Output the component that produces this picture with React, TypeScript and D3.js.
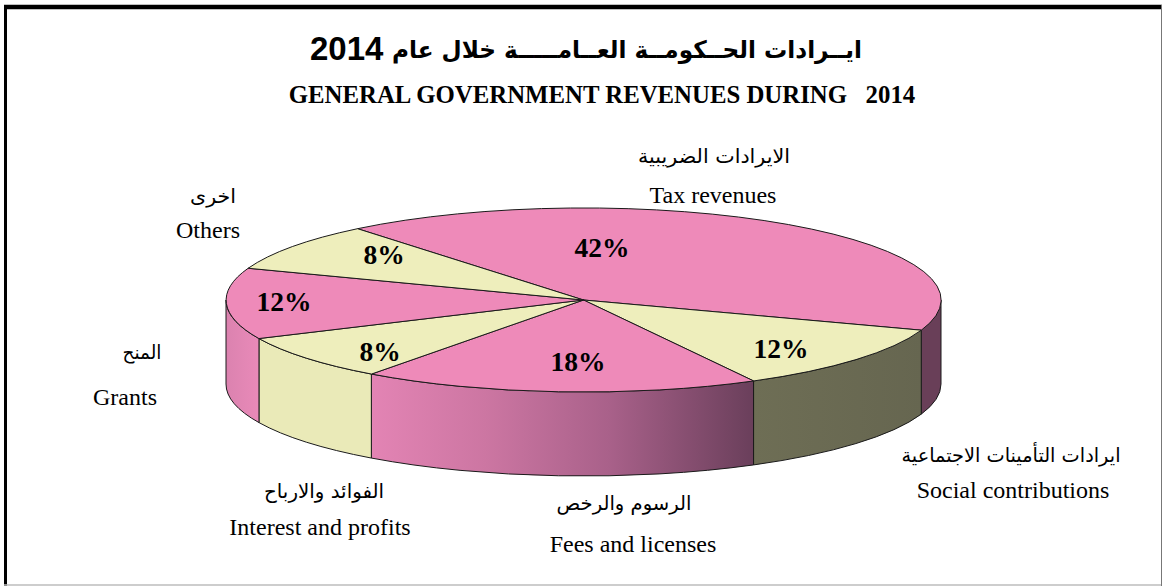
import React from "react";
import * as d3 from "d3";

const categoriesEn = ["Tax revenues", "Social contributions", "Fees and licenses", "Interest and profits", "Grants", "Others"];
const categoriesAr = ["الايرادات الضريبية", "ايرادات التأمينات الاجتماعية", "الرسوم والرخص", "الفوائد والارباح", "المنح", "اخرى"];
const sliceValues = [41.2, 11.8, 18, 8, 12.5, 8.5];
const percentLabels = ["42%", "12%", "18%", "8%", "12%", "8%"];

const titleArText = "ايــرادات الحــكومــة العــامـــــة خلال عام";
const titleYear = "2014";
const titleEn = "GENERAL GOVERNMENT REVENUES DURING   2014";

const W = 1162, H = 586;
const cx = 583.5, cy = 300, rx = 357.5, ry = 92, depth = 84;
const startDeg = -39.2;

const topFill = ["#EE8AB9", "#EEEEBC", "#EE8AB9", "#EEEEBC", "#EE8AB9", "#EEEEBC"];
const wallFill = ["#693F58", "url(#wallSocial)", "url(#wallFees)", "#EAEAB8", "url(#wallGrants)", "#EAEAB8"];

const labelAnchor = [
  { xAr: 714, ar: 163, wAr: 152, xEn: 713, en: 203 },
  { xAr: 1011, ar: 462, wAr: 219, xEn: 1013, en: 498 },
  { xAr: 624, ar: 510, wAr: 135, xEn: 633, en: 552 },
  { xAr: 324, ar: 498, wAr: 120, xEn: 320, en: 535 },
  { xAr: 142, ar: 359, wAr: 39, xEn: 125, en: 405 },
  { xAr: 213, ar: 203, wAr: 46, xEn: 208, en: 238 },
];
const pctAnchor = [
  { x: 602, y: 257 }, { x: 781, y: 358 }, { x: 578, y: 371 }, { x: 380, y: 361 }, { x: 284, y: 311 }, { x: 384, y: 264 },
];

const AR_FONT = "'DejaVu Sans', sans-serif";
const SANS = "'Liberation Sans', Arial, sans-serif";
const SERIF = "'Liberation Serif', 'Times New Roman', serif";

export default function App() {
  const start = (startDeg * Math.PI) / 180;
  const pie = d3.pie<number>().sort(null).startAngle(start).endAngle(start + 2 * Math.PI);
  const arcs = pie(sliceValues);
  const arcGen = d3.arc<d3.PieArcDatum<number>>().innerRadius(0).outerRadius(1);
  const px = d3.scaleLinear().domain([-1, 1]).range([cx - rx, cx + rx]);
  const py = d3.scaleLinear().domain([-1, 1]).range([cy - ry, cy + ry]);
  const pt = (a: number) => [px(Math.sin(a)), py(-Math.cos(a))];

  const wallPath = (a0: number, a1: number) => {
    const lo = Math.max(a0, Math.PI / 2);
    const hi = Math.min(a1, (3 * Math.PI) / 2);
    if (hi <= lo) return null;
    const [x0, y0] = pt(lo);
    const [x1, y1] = pt(hi);
    return `M${x0},${y0}A${rx},${ry} 0 0 1 ${x1},${y1}L${x1},${y1 + depth}A${rx},${ry} 0 0 0 ${x0},${y0 + depth}Z`;
  };

  return (
    <svg width={W} height={H} viewBox={`0 0 ${W} ${H}`} style={{ position: "absolute", left: 0, top: 0, background: "#fff", display: "block" }}>
      <defs>
        <linearGradient id="wallFees" x1="0" x2="1" y1="0" y2="0">
          <stop offset="0" stopColor="#E384B4" />
          <stop offset="0.3" stopColor="#CC76A2" />
          <stop offset="0.62" stopColor="#A9618A" />
          <stop offset="1" stopColor="#6A3F5B" />
        </linearGradient>
        <linearGradient id="wallGrants" x1="0" x2="1" y1="0" y2="0">
          <stop offset="0" stopColor="#DB82AF" />
          <stop offset="1" stopColor="#E98AB9" />
        </linearGradient>
        <linearGradient id="wallSocial" x1="0" x2="1" y1="0" y2="0">
          <stop offset="0" stopColor="#6E6E55" />
          <stop offset="1" stopColor="#666650" />
        </linearGradient>
      </defs>

      <line x1={4} x2={W} y1={7} y2={7} stroke="#000" strokeWidth={4.5} />
      <line x1={5.5} x2={5.5} y1={5} y2={H} stroke="#000" strokeWidth={3} />
      <line x1={4} x2={W} y1={585} y2={585} stroke="#bdbdbd" strokeWidth={1.5} />
      <line x1={1161.5} x2={1161.5} y1={5} y2={H} stroke="#777" strokeWidth={1} />

      <text x={862} y={58} textAnchor="end" direction="ltr" fontFamily={AR_FONT} fontWeight="bold" fontSize={24} fill="#000" textLength={470} lengthAdjust="spacingAndGlyphs">{titleArText}</text>
      <text x={310} y={60} textAnchor="start" fontFamily={SANS} fontWeight="bold" fontSize={33} fill="#000">{titleYear}</text>
      <text x={602} y={103} textAnchor="middle" fontFamily={SERIF} fontWeight="bold" fontSize={24.8} fill="#000" style={{ whiteSpace: "pre" }}>{titleEn}</text>

      <g>
        {arcs.map((d, i) => {
          const p = wallPath(d.startAngle, d.endAngle);
          return p ? <path key={i} d={p} fill={wallFill[i]} stroke="#1a1a1a" strokeWidth={1} /> : null;
        })}
      </g>

      <g transform={`translate(${cx},${cy}) scale(${rx},${ry})`}>
        {arcs.map((d, i) => (
          <path key={i} d={arcGen(d) ?? ""} fill={topFill[i]} stroke="#1a1a1a" strokeWidth={1} vectorEffect="non-scaling-stroke" />
        ))}
      </g>

      {percentLabels.map((t, i) => (
        <text key={i} x={pctAnchor[i].x} y={pctAnchor[i].y} textAnchor="middle" fontFamily={SERIF} fontWeight="bold" fontSize={27.5} fill="#000">{t}</text>
      ))}

      {categoriesEn.map((t, i) => (
        <g key={i}>
          <text x={labelAnchor[i].xAr - labelAnchor[i].wAr / 2} y={labelAnchor[i].ar} fontFamily={AR_FONT} fontSize={19.5} fill="#000" textLength={labelAnchor[i].wAr} lengthAdjust="spacingAndGlyphs">{categoriesAr[i]}</text>
          <text x={labelAnchor[i].xEn} y={labelAnchor[i].en} textAnchor="middle" fontFamily={SERIF} fontSize={24} fill="#000">{t}</text>
        </g>
      ))}
    </svg>
  );
}
